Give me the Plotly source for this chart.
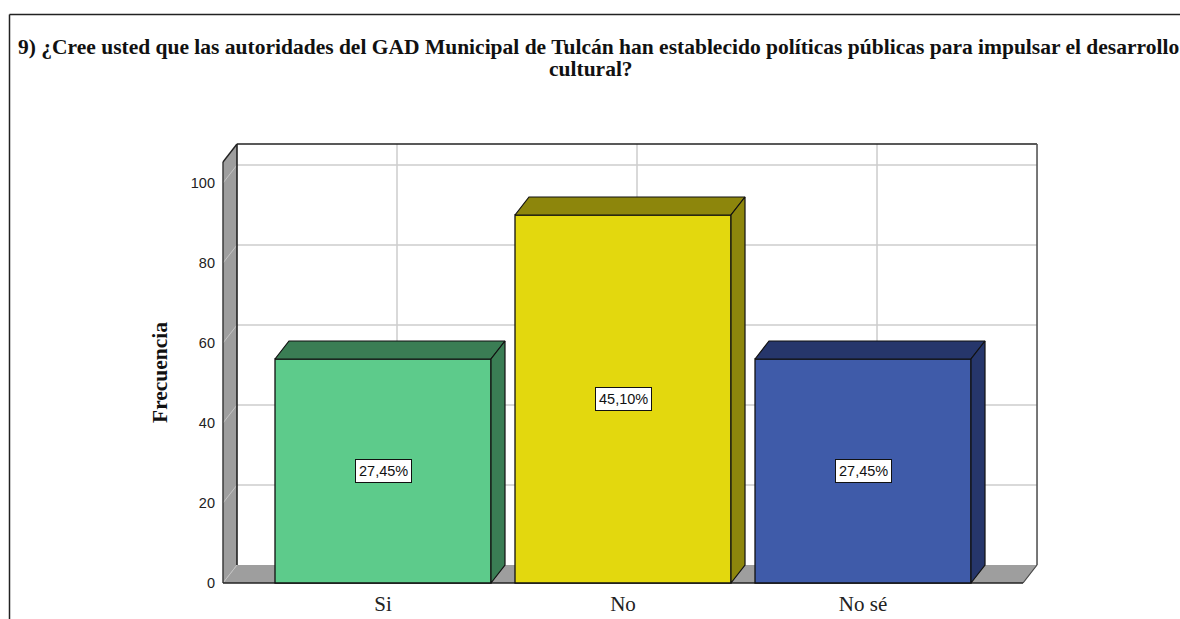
import plotly.graph_objects as go

CATEGORIES = ["Si", "No", "No sé"]
FRECUENCIA = [56, 92, 56]
PORCENTAJE = ["27,45%", "45,10%", "27,45%"]
Y_TICKS = [0, 20, 40, 60, 80, 100]

TITLE_1 = ("9) ¿Cree usted que las autoridades del GAD Municipal de Tulcán han establecido "
           "políticas públicas para impulsar el desarrollo")
TITLE_2 = "cultural?"

FRONT = ["#5DCB8B", "#E3D80E", "#3F5BA9"]
SHADE = ["#3A7D54", "#8D860C", "#26366B"]
WALL = "#9E9E9E"
GRID = "#CCCCCC"
INK = "#111111"

BAR_W = 0.9
DX = 14 / 240   # depth of the 3D box, in x units
DY = 4.5        # depth of the 3D box, in y units
X0, X1 = -0.6667, 2.6667
Y_TOP = 109.75

W, H = 1180, 619
M = dict(l=221, r=141, t=142, b=35)


def px_x(p):
    return (p - M["l"]) / (W - M["l"] - M["r"])


def px_y(p):
    return (H - M["b"] - p) / (H - M["t"] - M["b"])


def poly(xs, ys, fill, width=1.2):
    return go.Scatter(
        x=xs, y=ys, mode="lines", fill="toself", fillcolor=fill,
        line=dict(color=INK, width=width), hoverinfo="skip",
        showlegend=False, cliponaxis=False,
    )


xpos = list(range(len(CATEGORIES)))
fig = go.Figure()

# bar fronts
fig.add_trace(go.Bar(
    x=xpos, y=FRECUENCIA, width=BAR_W,
    marker=dict(color=FRONT, line=dict(color=INK, width=1.3)),
    showlegend=False,
    hovertemplate="%{y}<extra></extra>",
))

# bar top and side faces
for x, v, c in zip(xpos, FRECUENCIA, SHADE):
    l, r = x - BAR_W / 2, x + BAR_W / 2
    fig.add_trace(poly([l, l + DX, r + DX, r, l], [v, v + DY, v + DY, v, v], c))
    fig.add_trace(poly([r, r + DX, r + DX, r, r], [0, DY, v + DY, v, 0], c))

shapes = []


def seg(x0, y0, x1, y1, color, width, layer="below"):
    shapes.append(dict(type="line", x0=x0, y0=y0, x1=x1, y1=y1, layer=layer,
                       line=dict(color=color, width=width)))


# left wall and floor
shapes.append(dict(type="path", layer="below", line=dict(width=0), fillcolor=WALL,
                   path=f"M {X0} 0 L {X0 + DX} {DY} L {X0 + DX} {Y_TOP} L {X0} {Y_TOP - DY} Z"))
shapes.append(dict(type="path", layer="below", line=dict(width=0), fillcolor=WALL,
                   path=f"M {X0} 0 L {X1} 0 L {X1 + DX} {DY} L {X0 + DX} {DY} Z"))

# grid on the back wall, continuing faintly across the left wall
for t in Y_TICKS[1:]:
    seg(X0 + DX, t + DY, X1 + DX, t + DY, GRID, 1.5)
    seg(X0, t, X0 + DX, t + DY, "#C4C4C4", 1)
seg(X0, 0, X0 + DX, DY, "#C4C4C4", 1)
for x in xpos:
    seg(x + DX, DY, x + DX, Y_TOP, GRID, 1.5)

# box outline
seg(X0 + DX, Y_TOP, X1 + DX, Y_TOP, "#222222", 1.6)
seg(X0 + DX, DY, X0 + DX, Y_TOP, "#222222", 1.6)
seg(X0, 0, X0, Y_TOP - DY, "#333333", 1.4)
seg(X0, Y_TOP - DY, X0 + DX, Y_TOP, "#222222", 1.4)
seg(X1 + DX, DY, X1 + DX, Y_TOP, "#555555", 1.6)
seg(X0, 0, X1, 0, "#222222", 1.6)
seg(X1, 0, X1 + DX, DY, "#444444", 1.2)

# outer frame of the picture
shapes.append(dict(type="line", xref="paper", yref="paper", x0=px_x(9.5), x1=px_x(W), y0=px_y(14.5), y1=px_y(14.5),
                   line=dict(color="#222222", width=1.5)))
shapes.append(dict(type="line", xref="paper", yref="paper", x0=px_x(9.5), x1=px_x(9.5), y0=px_y(14.5), y1=px_y(H),
                   line=dict(color="#222222", width=1.5)))

labels = [
    dict(x=x, y=v / 2, text=p, showarrow=False, bgcolor="white",
         bordercolor=INK, borderwidth=1, borderpad=3,
         font=dict(family="Liberation Sans", size=14.5, color="#111111"))
    for x, v, p in zip(xpos, FRECUENCIA, PORCENTAJE)
]
SERIF_BOLD = dict(family="Liberation Serif", size=21.5, color="#111111", weight="bold")
labels += [
    dict(xref="paper", yref="paper", x=px_x(16), y=px_y(47), xanchor="left", yanchor="middle",
         text=TITLE_1, showarrow=False, font=SERIF_BOLD),
    dict(xref="paper", yref="paper", x=px_x(591), y=px_y(69), xanchor="center", yanchor="middle",
         text=TITLE_2, showarrow=False, font=SERIF_BOLD),
    dict(xref="paper", yref="paper", x=px_x(160), y=px_y(373), xanchor="center", yanchor="middle",
         text="Frecuencia", textangle=-90, showarrow=False, font=SERIF_BOLD),
]

fig.update_layout(
    width=W, height=H, autosize=False,
    margin=M,
    paper_bgcolor="white", plot_bgcolor="white",
    bargap=0.1,
    shapes=shapes,
    annotations=labels,
)
fig.update_xaxes(
    range=[-0.675, 2.7333], tickvals=xpos, ticktext=CATEGORIES,
    showgrid=False, zeroline=False, showline=False, ticks="", automargin=False,
    ticklabelstandoff=5,
    tickfont=dict(family="Liberation Serif", size=21, color="#222222"),
)
fig.update_yaxes(
    range=[-0.25, 110.25], tickvals=Y_TICKS,
    showgrid=False, zeroline=False, showline=False, ticks="", automargin=False,
    ticklabelstandoff=5,
    tickfont=dict(family="Liberation Sans", size=14.5, color="#222222"),
)

# the page's default body margin would shift everything by 8px
fig.write_html("out.html", config=dict(displayModeBar=False),
               post_script="document.body.style.margin='0';document.documentElement.style.overflow='hidden';")
